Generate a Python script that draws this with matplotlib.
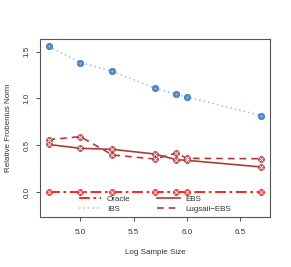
import matplotlib
matplotlib.use("Agg")
import matplotlib.pyplot as plt
from matplotlib.lines import Line2D

x = [4.7, 5.0, 5.3, 5.7, 5.9, 6.0, 6.7]
oracle = [0, 0, 0, 0, 0, 0, 0]
ibs = [1.556, 1.382, 1.29, 1.109, 1.045, 1.016, 0.817]
ebs = [0.51, 0.469, 0.458, 0.408, 0.348, 0.341, 0.27]
lugsail = [0.561, 0.593, 0.398, 0.355, 0.419, 0.362, 0.358]
xticks = [5.0, 5.5, 6.0, 6.5]
yticks = [0.0, 0.5, 1.0, 1.5]

plt.rcParams['font.family'] = ['Liberation Sans', 'DejaVu Sans']
fig = plt.figure(figsize=(2.91, 2.67), dpi=100)
ax = fig.add_axes([40/291, 1-217/267, 230/291, 178/267])

red = '#F01818'
dred = '#B03A3A'
blue = '#4A86C0'
lblue = '#9CC0E0'

def markers(xs, ys, fc, ec):
    ax.plot(xs, ys, linestyle='none', marker='o', ms=4.2, mfc=fc, mec=ec, mew=0.6, zorder=4)
    ax.plot(xs, ys, linestyle='none', marker='x', ms=2.4, mec='white', mew=0.5, zorder=5)

ax.plot(x, oracle, color=red, lw=1.3, linestyle=(0, (6, 2, 1.5, 2)), zorder=3)
markers(x, oracle, '#F05050', red)
ax.plot(x, ibs, color=lblue, lw=1.1, linestyle=(0, (1, 2)), zorder=3)
ax.plot(x, ibs, linestyle='none', marker='o', ms=4.2, mfc=blue, mec=blue, zorder=4)
ax.plot(x, ibs, linestyle='none', marker='+', ms=2.6, mec='#8AB4DA', mew=0.5, zorder=5)
ax.plot(x, ebs, color=dred, lw=1.2, zorder=3)
markers(x, ebs, '#C06060', dred)
ax.plot(x, lugsail, color=dred, lw=1.2, linestyle=(0, (4, 3)), zorder=3)
markers(x, lugsail, '#C06060', dred)

ax.set_xlim(4.62, 6.78)
ax.set_ylim(-0.263, 1.634)
ax.set_xticks(xticks)
ax.set_xticklabels([f"{t:.1f}" for t in xticks])
ax.set_yticks(yticks)
ax.set_yticklabels([f"{t:.1f}" for t in yticks], rotation=90, va='center')
tc = '#333333'
fs = 5.8
ax.tick_params(labelsize=fs, colors=tc, length=3, width=0.6)
ax.tick_params(axis='x', pad=5.5)
ax.tick_params(axis='y', pad=4)
for s in ax.spines.values():
    s.set_color('#555555')
    s.set_linewidth(0.8)
ax.set_xlabel('Log Sample Size', fontsize=fs, color=tc, labelpad=9.5)
ax.set_ylabel('Relative Frobenius Norm', fontsize=fs, color=tc, labelpad=8)

handles = [
    Line2D([], [], color=red, lw=1.3, linestyle=(0, (6, 2, 1.5, 2))),
    Line2D([], [], color=lblue, lw=1.1, linestyle=(0, (1, 2))),
    Line2D([], [], color=dred, lw=1.2),
    Line2D([], [], color=dred, lw=1.2, linestyle=(0, (4, 3))),
]
labels = ['Oracle', 'IBS', 'EBS', 'Lugsail\u2212EBS']
leg = ax.legend(handles, labels, ncol=2, frameon=False, fontsize=fs,
                loc='lower center', bbox_to_anchor=(0.5, -0.01),
                handlelength=2.8, handletextpad=0.7, columnspacing=3.3,
                labelspacing=0.3, borderpad=0.2)
for t in leg.get_texts():
    t.set_color(tc)

fig.savefig('out.png', dpi=100)
